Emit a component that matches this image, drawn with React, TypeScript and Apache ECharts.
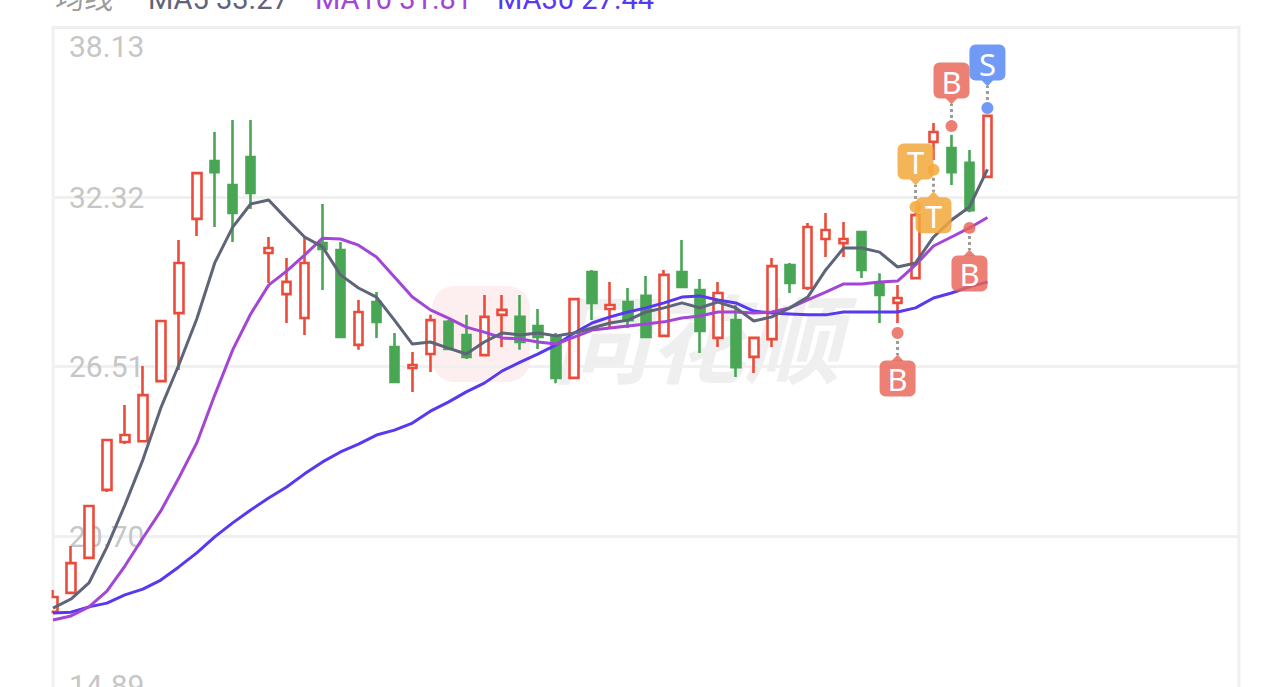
import React, { useEffect, useRef } from 'react';
import * as echarts from 'echarts';

// ---- data ----
const categories: string[] = Array.from({ length: 67 }, (_, i) => `${i + 1}`);

const openP = [18.10, 18.75, 19.95, 22.28, 23.92, 23.95, 26.01, 28.34, 31.57, 33.55, 32.73, 33.69, 30.40, 28.99, 28.17, 30.74, 30.50, 27.25, 28.72, 27.18, 26.46, 26.94, 28.04, 27.59, 26.90, 28.28, 28.21, 27.90, 27.52, 26.12, 29.75, 28.48, 28.72, 28.93, 27.56, 29.75, 29.13, 27.49, 28.10, 26.84, 27.45, 29.99, 29.20, 30.88, 30.74, 31.12, 29.37, 28.69, 29.54, 34.21, 34.00, 33.49, 33.01];
const closeP = [18.61, 19.77, 21.73, 23.99, 24.16, 25.53, 28.07, 30.06, 33.14, 33.17, 31.77, 32.46, 30.57, 29.41, 30.06, 30.54, 27.52, 28.38, 28.04, 25.98, 26.56, 28.10, 27.11, 26.84, 28.21, 28.45, 27.35, 27.52, 26.12, 28.82, 28.69, 28.62, 28.10, 27.52, 29.65, 29.24, 27.73, 29.03, 26.49, 27.49, 29.95, 29.37, 31.29, 31.19, 30.88, 29.82, 28.96, 28.86, 31.70, 34.55, 33.17, 31.87, 35.10];
const lowP = [18.10, 18.75, 19.95, 22.21, 23.85, 23.95, 26.01, 26.39, 30.98, 31.29, 30.78, 31.91, 29.37, 28.00, 27.59, 29.13, 27.52, 27.08, 27.49, 25.98, 25.64, 26.32, 27.08, 26.77, 26.87, 27.18, 27.08, 27.11, 25.94, 26.12, 28.10, 27.83, 27.83, 27.49, 27.52, 29.24, 26.97, 27.18, 26.15, 26.29, 27.18, 29.03, 29.13, 30.26, 30.26, 29.54, 28.00, 28.00, 29.54, 33.59, 32.73, 31.80, 33.01];
const highP = [18.85, 20.36, 21.73, 23.99, 25.19, 26.53, 28.07, 30.85, 33.14, 34.55, 34.96, 34.96, 30.95, 30.23, 30.95, 32.08, 30.78, 28.79, 29.06, 27.66, 27.01, 28.28, 28.10, 28.28, 28.96, 28.96, 28.96, 28.48, 27.66, 28.82, 29.82, 29.41, 29.20, 29.61, 29.82, 30.85, 29.51, 29.41, 28.62, 27.49, 30.23, 30.06, 31.43, 31.77, 31.46, 31.12, 29.71, 29.30, 31.77, 34.86, 34.45, 33.93, 35.10];

const ma5 = [18.23, 18.54, 19.09, 20.32, 21.76, 23.31, 25.09, 26.56, 28.14, 30.06, 31.29, 32.08, 32.22, 31.57, 30.95, 30.61, 29.65, 29.20, 28.89, 28.10, 27.28, 27.35, 27.14, 26.94, 27.35, 27.66, 27.59, 27.66, 27.56, 27.66, 27.83, 28.00, 28.10, 28.38, 28.52, 28.69, 28.52, 28.72, 28.52, 28.07, 28.21, 28.52, 28.89, 29.82, 30.57, 30.57, 30.43, 29.92, 30.06, 30.95, 31.53, 31.98, 33.27];
const ma10 = [17.82, 17.96, 18.27, 18.81, 19.67, 20.63, 21.56, 22.69, 23.89, 25.53, 27.08, 28.31, 29.30, 29.78, 30.33, 30.91, 30.88, 30.67, 30.26, 29.58, 28.89, 28.45, 28.17, 27.86, 27.69, 27.49, 27.45, 27.35, 27.28, 27.52, 27.76, 27.83, 27.90, 27.97, 28.04, 28.17, 28.24, 28.38, 28.38, 28.34, 28.38, 28.52, 28.79, 29.06, 29.34, 29.34, 29.41, 29.44, 29.99, 30.64, 30.95, 31.26, 31.62];
const ma30 = [18.06, 18.09, 18.27, 18.40, 18.68, 18.88, 19.19, 19.64, 20.12, 20.67, 21.15, 21.59, 22.00, 22.38, 22.83, 23.24, 23.58, 23.85, 24.16, 24.33, 24.57, 24.98, 25.29, 25.64, 25.94, 26.36, 26.66, 26.94, 27.25, 27.66, 28.00, 28.21, 28.38, 28.52, 28.69, 28.89, 28.93, 28.79, 28.69, 28.41, 28.34, 28.31, 28.28, 28.28, 28.38, 28.38, 28.38, 28.38, 28.52, 28.86, 29.03, 29.24, 29.41];

const signalIndex = [47, 48, 49, 50, 51, 52];
const signalType = ['B', 'T', 'T', 'B', 'B', 'S'];
const signalPrice = [27.66, 31.98, 33.25, 34.75, 31.26, 35.37];
const signalBelow = [true, false, true, false, true, false];

const yMin = 14.89;
const yMax = 38.13;
const yStep = 5.81;

const legendLabels = ['均线', 'MA5 33.27', 'MA10 31.81', 'MA30 27.44'];

// ---- styles ----
const RED = '#eb4b3b';
const GREEN = '#48a655';
const C_MA5 = '#5e6578';
const C_MA10 = '#a346d6';
const C_MA30 = '#5838f0';
const legendColors = ['#9a9a9a', C_MA5, C_MA10, C_MA30];
const legendX = [55, 148, 315, 497];
const signalColors: Record<string, string> = {
  B: 'rgba(232, 100, 86, 0.82)',
  T: 'rgba(242, 168, 60, 0.85)',
  S: 'rgba(100, 145, 245, 0.92)',
};

export default function App() {
  const ref = useRef<HTMLDivElement>(null);

  useEffect(() => {
    document.body.style.margin = '0';
    document.body.style.overflow = 'hidden';
    const chart = echarts.init(ref.current as HTMLDivElement, null, { renderer: 'svg' });

    const candles = openP.map((o, i) => [o, closeP[i], lowP[i], highP[i]]);

    const renderSignal = (params: any, api: any) => {
      const i = params.dataIndex;
      const pt = api.coord([api.value(0), api.value(1)]);
      const cx = pt[0];
      const cy = pt[1];
      const d = signalBelow[i] ? 1 : -1;
      const color = signalColors[signalType[i]];
      const boxH = 36;
      const boxW = 36;
      const boxNear = cy + d * 27.5;
      const boxTop = d > 0 ? boxNear : boxNear - boxH;
      return {
        type: 'group',
        children: [
          {
            type: 'line',
            shape: { x1: cx, y1: cy + d * 8, x2: cx, y2: cy + d * 22 },
            style: { stroke: '#9a9a9a', lineWidth: 3, lineDash: [3, 3] },
          },
          {
            type: 'circle',
            shape: { cx, cy, r: 6 },
            style: { fill: color },
          },
          {
            type: 'polygon',
            shape: { points: [[cx, cy + d * 21.5], [cx - 6, cy + d * 28], [cx + 6, cy + d * 28]] },
            style: { fill: color },
          },
          {
            type: 'rect',
            shape: { x: cx - boxW / 2, y: boxTop, width: boxW, height: boxH, r: 6 },
            style: { fill: color },
          },
          {
            type: 'text',
            x: cx,
            y: boxTop + boxH / 2 + 1,
            style: {
              text: signalType[i],
              fill: '#ffffff',
              font: '31px "Noto Sans", Roboto, sans-serif',
              align: 'center',
              verticalAlign: 'middle',
            },
          },
        ],
      };
    };

    const option: any = {
      animation: false,
      backgroundColor: '#ffffff',
      grid: {
        left: 53,
        top: 27.5,
        width: 1186,
        height: 678,
        show: true,
        borderColor: '#efefef',
        borderWidth: 3,
        backgroundColor: 'transparent',
        outerBoundsMode: 'none',
      },
      xAxis: {
        type: 'category',
        data: categories,
        boundaryGap: false,
        axisLine: { show: false },
        axisTick: { show: false },
        axisLabel: { show: false },
        splitLine: { show: false },
      },
      yAxis: {
        type: 'value',
        min: yMin,
        max: yMax,
        interval: yStep,
        axisLine: { show: false },
        axisTick: { show: false },
        splitLine: { show: true, lineStyle: { color: '#f0f0f0', width: 3 } },
        axisLabel: {
          inside: true,
          margin: 16,
          color: '#c6c6c6',
          fontSize: 30,
          fontFamily: 'Roboto, "Noto Sans", sans-serif',
          formatter: (v: number) => {
            const s = v.toFixed(2);
            if (v > yMax - 0.01) return `{t|${s}}`;
            if (v < yMin + 0.01) return `{b|${s}}`;
            return s;
          },
          rich: {
            t: { padding: [37, 0, 0, 0], color: '#c6c6c6', fontSize: 30, fontFamily: 'Roboto, "Noto Sans", sans-serif' },
            b: { padding: [0, 0, 40, 0], color: '#c6c6c6', fontSize: 30, fontFamily: 'Roboto, "Noto Sans", sans-serif' },
          },
        },
      },
      graphic: [
        {
          type: 'rect',
          z: 0,
          shape: { x: 432, y: 286, width: 98, height: 96, r: 22 },
          style: { fill: '#fdeff0' },
        },
        {
          type: 'text',
          z: 0,
          x: 553,
          y: 334,
          style: {
            text: '同花顺',
            font: 'italic bold 96px "Noto Sans CJK SC", sans-serif',
            fill: '#efefef',
            align: 'left',
            verticalAlign: 'middle',
          },
        },
        {
          // mask outside the plot's left edge, so the first candle is cut by the frame
          type: 'rect',
          z: 50,
          shape: { x: 0, y: 20, width: 51.5, height: 720 },
          style: { fill: '#ffffff' },
        },
        ...legendLabels.map((t, i) => ({
          type: 'text',
          x: legendX[i],
          y: -1,
          z: 60,
          style: {
            text: t,
            fill: legendColors[i],
            font: '29px Roboto, "Noto Sans CJK SC", sans-serif',
            align: 'left',
            verticalAlign: 'middle',
          },
        })),
      ],
      series: [
        {
          type: 'candlestick',
          data: candles,
          barWidth: 9,
          clip: true,
          z: 2,
          itemStyle: {
            color: '#ffffff',
            color0: GREEN,
            borderColor: RED,
            borderColor0: GREEN,
            borderWidth: 2.6,
          },
        },
        {
          type: 'line',
          data: ma30,
          symbol: 'none',
          z: 3,
          lineStyle: { color: C_MA30, width: 3 },
          itemStyle: { color: C_MA30 },
        },
        {
          type: 'line',
          data: ma10,
          symbol: 'none',
          z: 3,
          lineStyle: { color: C_MA10, width: 3 },
          itemStyle: { color: C_MA10 },
        },
        {
          type: 'line',
          data: ma5,
          symbol: 'none',
          z: 3,
          lineStyle: { color: C_MA5, width: 3 },
          itemStyle: { color: C_MA5 },
        },
        {
          type: 'custom',
          data: signalIndex.map((x, i) => [x, signalPrice[i]]),
          encode: { x: 0, y: 1 },
          renderItem: renderSignal,
          clip: false,
          z: 10,
        },
      ],
    };

    chart.setOption(option);
    return () => chart.dispose();
  }, []);

  return (
    <div
      ref={ref}
      style={{ position: 'fixed', left: 0, top: 0, width: 1284, height: 740, background: '#fff' }}
    />
  );
}
